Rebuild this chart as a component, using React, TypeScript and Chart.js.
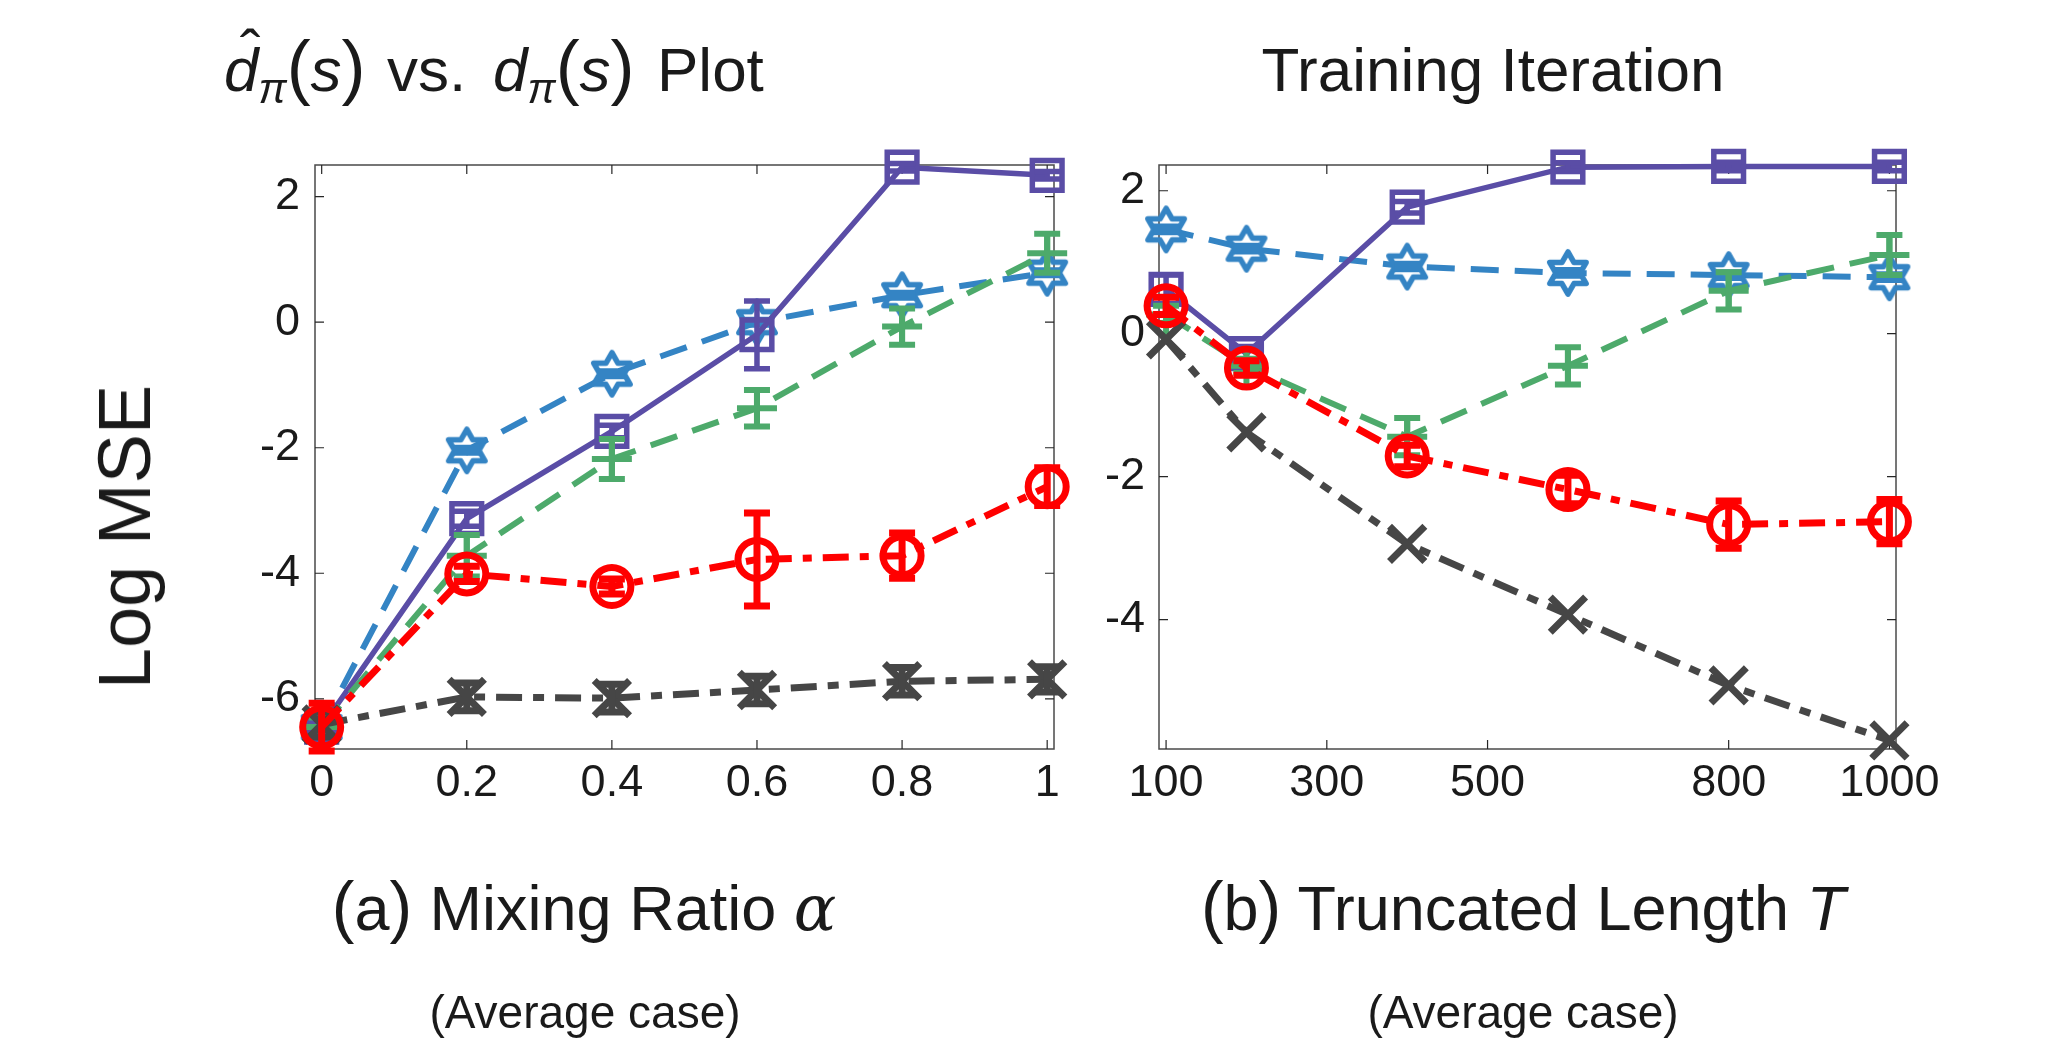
import React, { useEffect, useRef } from 'react';
import { Chart, registerables } from 'chart.js';

Chart.register(...registerables);

// ---------------- data ----------------
const mixingRatio = [0, 0.2, 0.4, 0.6, 0.8, 1];
const truncatedLength = [100, 200, 400, 600, 800, 1000];

const mixingTicks = [0, 0.2, 0.4, 0.6, 0.8, 1];
const lengthTicks = [100, 300, 500, 800, 1000];
const mseTicksA = [-6, -4, -2, 0, 2];
const mseTicksB = [-4, -2, 0, 2];

// (a) Mixing ratio alpha
const purpleA = [-6.45, -3.13, -1.74, -0.2, 2.47, 2.34];
const purpleErrA = [0.08, 0.12, 0.1, 0.54, 0.06, 0.06];
const blueA = [-6.45, -2.04, -0.82, 0.0, 0.43, 0.79];
const blueErrA = [0.04, 0.04, 0.04, 0.04, 0.04, 0.04];
const greenA = [-6.45, -3.72, -2.18, -1.37, -0.07, 1.1];
const greenErrA = [0.15, 0.33, 0.32, 0.29, 0.29, 0.31];
const redA = [-6.45, -4.01, -4.21, -3.78, -3.72, -2.62];
const redErrA = [0.38, 0.12, 0.12, 0.74, 0.36, 0.3];
const grayA = [-6.41, -5.97, -5.99, -5.86, -5.72, -5.69];
const grayErrA = [0.2, 0.22, 0.22, 0.22, 0.22, 0.2];

// (b) Truncated length T
const purpleB = [0.62, -0.28, 1.77, 2.33, 2.34, 2.34];
const purpleErrB = [0.2, 0.1, 0.08, 0.06, 0.06, 0.06];
const blueB = [1.46, 1.19, 0.94, 0.85, 0.82, 0.79];
const blueErrB = [0.04, 0.04, 0.04, 0.04, 0.04, 0.04];
const greenB = [0.27, -0.45, -1.44, -0.45, 0.6, 1.1];
const greenErrB = [0.12, 0.1, 0.26, 0.26, 0.26, 0.28];
const redB = [0.39, -0.48, -1.71, -2.18, -2.67, -2.63];
const redErrB = [0.12, 0.1, 0.15, 0.2, 0.33, 0.31];
const grayB = [-0.08, -1.38, -2.94, -3.93, -4.92, -5.69];
const grayErrB = [0, 0, 0, 0, 0, 0];

// ---------------- styles ----------------
const FONT = "'Liberation Sans', Arial, Helvetica, sans-serif";
const PURPLE = '#5A4DA6';
const BLUE = '#3484C4';
const GREEN = '#4DAA6B';
const RED = '#FF0000';
const GRAY = '#464646';
const TEXT = '#1a1a1a';

function makeHexagram(color: string, lw: number): HTMLCanvasElement {
  const R = 21;
  const size = 52;
  const c = document.createElement('canvas');
  c.width = size;
  c.height = size;
  const g = c.getContext('2d')!;
  const r = R / Math.sqrt(3);
  g.beginPath();
  for (let k = 0; k < 12; k++) {
    const ang = -Math.PI / 2 + (k * Math.PI) / 6;
    const rad = k % 2 === 0 ? R : r;
    const px = size / 2 + rad * Math.cos(ang);
    const py = size / 2 + rad * Math.sin(ang);
    if (k === 0) g.moveTo(px, py);
    else g.lineTo(px, py);
  }
  g.closePath();
  g.strokeStyle = color;
  g.lineWidth = lw;
  g.lineJoin = 'round';
  g.stroke();
  return c;
}

const errorBarPlugin = {
  id: 'errorBars',
  afterDatasetDraw(chart: any, args: any) {
    const ds = chart.data.datasets[args.index];
    const errs: number[] | undefined = ds.errors;
    if (!errs) return;
    const xs = chart.scales.x;
    const ys = chart.scales.y;
    const ctx = chart.ctx;
    ctx.save();
    ctx.setLineDash([]);
    ctx.strokeStyle = ds.borderColor;
    ctx.lineWidth = ds.borderWidth;
    ctx.lineCap = 'butt';
    const cap = 13;
    ds.data.forEach((p: any, i: number) => {
      const e = errs[i];
      if (!e) return;
      const px = xs.getPixelForValue(p.x);
      const top = ys.getPixelForValue(p.y + e);
      const bot = ys.getPixelForValue(p.y - e);
      ctx.beginPath();
      ctx.moveTo(px, top);
      ctx.lineTo(px, bot);
      ctx.moveTo(px - cap, top);
      ctx.lineTo(px + cap, top);
      ctx.moveTo(px - cap, bot);
      ctx.lineTo(px + cap, bot);
      ctx.stroke();
    });
    ctx.restore();
  },
};

const boxPlugin = {
  id: 'matlabBox',
  beforeDatasetsDraw(chart: any) {
    const { ctx, chartArea: a, scales } = chart;
    const xs = scales.x;
    const ys = scales.y;
    ctx.save();
    ctx.setLineDash([]);
    ctx.strokeStyle = '#4a4a4a';
    ctx.lineWidth = 1.5;
    ctx.strokeRect(a.left, a.top, a.right - a.left, a.bottom - a.top);
    ctx.strokeStyle = '#262626';
    ctx.lineWidth = 1.2;
    const tl = 9;
    ctx.beginPath();
    xs.ticks.forEach((t: any) => {
      const px = xs.getPixelForValue(t.value);
      ctx.moveTo(px, a.bottom);
      ctx.lineTo(px, a.bottom - tl);
      ctx.moveTo(px, a.top);
      ctx.lineTo(px, a.top + tl);
    });
    ys.ticks.forEach((t: any) => {
      const py = ys.getPixelForValue(t.value);
      ctx.moveTo(a.left, py);
      ctx.lineTo(a.left + tl, py);
      ctx.moveTo(a.right, py);
      ctx.lineTo(a.right - tl, py);
    });
    ctx.stroke();
    ctx.restore();
  },
};

interface SeriesStyle {
  color: string;
  width: number;
  dash: number[];
  point: any;
  radius: number;
}

function dataset(label: string, xs: number[], ys: number[], errs: number[], st: SeriesStyle) {
  return {
    label,
    data: xs.map((x, i) => ({ x, y: ys[i] })),
    errors: errs,
    borderColor: st.color,
    borderWidth: st.width,
    borderDash: st.dash,
    borderCapStyle: 'butt',
    borderJoinStyle: 'miter',
    pointStyle: st.point,
    pointRadius: st.radius,
    pointHoverRadius: st.radius,
    pointBorderColor: st.color,
    pointBorderWidth: st.width,
    pointBackgroundColor: 'rgba(0,0,0,0)',
    fill: false,
    tension: 0,
    clip: false,
  };
}

interface ChartCfg {
  datasets: any[];
  xMin: number;
  xMax: number;
  xTicks: number[];
  yMin: number;
  yMax: number;
  yTicks: number[];
  padding: { left: number; right: number; top: number; bottom: number };
  yWidth: number;
  xHeight: number;
  yPad: number;
  xPad: number;
}

function createChart(canvas: HTMLCanvasElement, c: ChartCfg) {
  const tickFont = { family: FONT, size: 45 };
  return new Chart(canvas, {
    type: 'line',
    data: { datasets: c.datasets },
    plugins: [boxPlugin, errorBarPlugin],
    options: {
      animation: false,
      responsive: false,
      maintainAspectRatio: false,
      devicePixelRatio: 1,
      events: [],
      layout: { padding: c.padding },
      plugins: { legend: { display: false }, tooltip: { enabled: false }, title: { display: false } },
      scales: {
        x: {
          type: 'linear',
          min: c.xMin,
          max: c.xMax,
          afterBuildTicks: (s: any) => {
            s.ticks = c.xTicks.map((v) => ({ value: v }));
          },
          afterFit: (s: any) => {
            s.height = c.xHeight;
          },
          grid: { display: false, drawTicks: false },
          border: { display: false },
          ticks: {
            autoSkip: false,
            maxRotation: 0,
            minRotation: 0,
            padding: c.xPad,
            color: TEXT,
            font: tickFont,
            callback: (v: any) => String(v),
          },
        },
        y: {
          type: 'linear',
          min: c.yMin,
          max: c.yMax,
          afterBuildTicks: (s: any) => {
            s.ticks = c.yTicks.map((v) => ({ value: v }));
          },
          afterFit: (s: any) => {
            s.width = c.yWidth;
          },
          grid: { display: false, drawTicks: false },
          border: { display: false },
          ticks: {
            autoSkip: false,
            padding: c.yPad,
            color: TEXT,
            font: tickFont,
            callback: (v: any) => String(v),
          },
        },
      },
    } as any,
  });
}

function Txt(props: {
  left?: number;
  center?: number;
  baseline: number;
  size: number;
  style?: React.CSSProperties;
  children: React.ReactNode;
}) {
  const { left, center, baseline, size, style, children } = props;
  const top = baseline - 0.8465 * size;
  return (
    <div
      style={{
        position: 'absolute',
        top,
        left: center !== undefined ? center : left,
        transform: center !== undefined ? 'translateX(-50%)' : undefined,
        fontSize: size,
        lineHeight: `${size}px`,
        whiteSpace: 'nowrap',
        ...style,
      }}
    >
      {children}
    </div>
  );
}

const bigParen: React.CSSProperties = { fontSize: 72, lineHeight: 0 };
const subPi: React.CSSProperties = {
  fontSize: 42,
  lineHeight: 0,
  position: 'relative',
  top: 12,
  fontStyle: 'italic',
};
const subParen: React.CSSProperties = { fontSize: 68, lineHeight: 0 };

export default function App() {
  const leftRef = useRef<HTMLCanvasElement>(null);
  const rightRef = useRef<HTMLCanvasElement>(null);

  useEffect(() => {
    const hexBlue = makeHexagram(BLUE, 5.5);
    const sPurple: SeriesStyle = { color: PURPLE, width: 5.5, dash: [], point: 'rect', radius: 21 };
    const sBlue: SeriesStyle = { color: BLUE, width: 6, dash: [28, 16], point: hexBlue, radius: 20 };
    const sGreen: SeriesStyle = { color: GREEN, width: 6, dash: [28, 16], point: 'cross', radius: 20 };
    const sRed: SeriesStyle = { color: RED, width: 7, dash: [26, 11, 9, 11], point: 'circle', radius: 19 };
    const sGray: SeriesStyle = { color: GRAY, width: 7, dash: [26, 11, 11, 11], point: 'crossRot', radius: 25 };

    const dsA = [
      dataset('red', mixingRatio, redA, redErrA, sRed),
      dataset('gray', mixingRatio, grayA, grayErrA, sGray),
      dataset('green', mixingRatio, greenA, greenErrA, sGreen),
      dataset('purple', mixingRatio, purpleA, purpleErrA, sPurple),
      dataset('blue', mixingRatio, blueA, blueErrA, sBlue),
    ];
    const dsB = [
      dataset('red', truncatedLength, redB, redErrB, sRed),
      dataset('gray', truncatedLength, grayB, grayErrB, sGray),
      dataset('green', truncatedLength, greenB, greenErrB, sGreen),
      dataset('purple', truncatedLength, purpleB, purpleErrB, sPurple),
      dataset('blue', truncatedLength, blueB, blueErrB, sBlue),
    ];

    const c1 = createChart(leftRef.current!, {
      datasets: dsA,
      xMin: -0.0092,
      xMax: 1.0094,
      xTicks: mixingTicks,
      yMin: -6.8,
      yMax: 2.505,
      yTicks: mseTicksA,
      padding: { left: 225, right: 36, top: 165, bottom: 217 },
      yWidth: 90,
      xHeight: 80,
      yPad: 15,
      xPad: 8,
    });
    const c2 = createChart(rightRef.current!, {
      datasets: dsB,
      xMin: 91.2,
      xMax: 1008.2,
      xTicks: lengthTicks,
      yMin: -5.81,
      yMax: 2.36,
      yTicks: mseTicksB,
      padding: { left: 0, right: 160, top: 165, bottom: 217 },
      yWidth: 69,
      xHeight: 80,
      yPad: 14,
      xPad: 8,
    });
    return () => {
      c1.destroy();
      c2.destroy();
    };
  }, []);

  return (
    <div
      style={{
        position: 'absolute',
        left: 0,
        top: 0,
        width: 2056,
        height: 1046,
        background: '#ffffff',
        overflow: 'hidden',
        fontFamily: FONT,
        color: TEXT,
      }}
    >
      <canvas
        ref={leftRef}
        width={1090}
        height={1046}
        style={{ position: 'absolute', left: 0, top: 0, width: 1090, height: 1046 }}
      />
      <canvas
        ref={rightRef}
        width={966}
        height={1046}
        style={{ position: 'absolute', left: 1090, top: 0, width: 966, height: 1046 }}
      />

      {/* left title: d-hat_pi(s) vs. d_pi(s) Plot */}
      <Txt left={240} baseline={73} size={62}>
        ˆ
      </Txt>
      <Txt left={224} baseline={91} size={62}>
        <i>d</i>
        <span style={subPi}>π</span>
        <span style={bigParen}>(</span>
        <i>s</i>
        <span style={bigParen}>)</span>
      </Txt>
      <Txt left={387} baseline={91} size={62}>
        vs.
      </Txt>
      <Txt left={493} baseline={91} size={62}>
        <i>d</i>
        <span style={subPi}>π</span>
        <span style={bigParen}>(</span>
        <i>s</i>
        <span style={bigParen}>)</span>
      </Txt>
      <Txt left={657} baseline={91} size={62}>
        Plot
      </Txt>

      {/* right title */}
      <Txt center={1493} baseline={91} size={62}>
        Training Iteration
      </Txt>

      {/* y label */}
      <div
        style={{
          position: 'absolute',
          left: 125,
          top: 537,
          transform: 'translate(-50%, -50%) rotate(-90deg)',
          fontSize: 74,
          lineHeight: '74px',
          whiteSpace: 'nowrap',
        }}
      >
        Log MSE
      </div>

      {/* subtitles */}
      <Txt center={584} baseline={930} size={63}>
        <span style={subParen}>(</span>a<span style={subParen}>)</span> Mixing Ratio{' '}
        <i style={{ fontFamily: "'DejaVu Serif', serif" }}>α</i>
      </Txt>
      <Txt center={585} baseline={1028} size={46}>
        (Average case)
      </Txt>
      <Txt center={1523} baseline={930} size={63}>
        <span style={subParen}>(</span>b<span style={subParen}>)</span> Truncated Length <i>T</i>
      </Txt>
      <Txt center={1523} baseline={1028} size={46}>
        (Average case)
      </Txt>
    </div>
  );
}
